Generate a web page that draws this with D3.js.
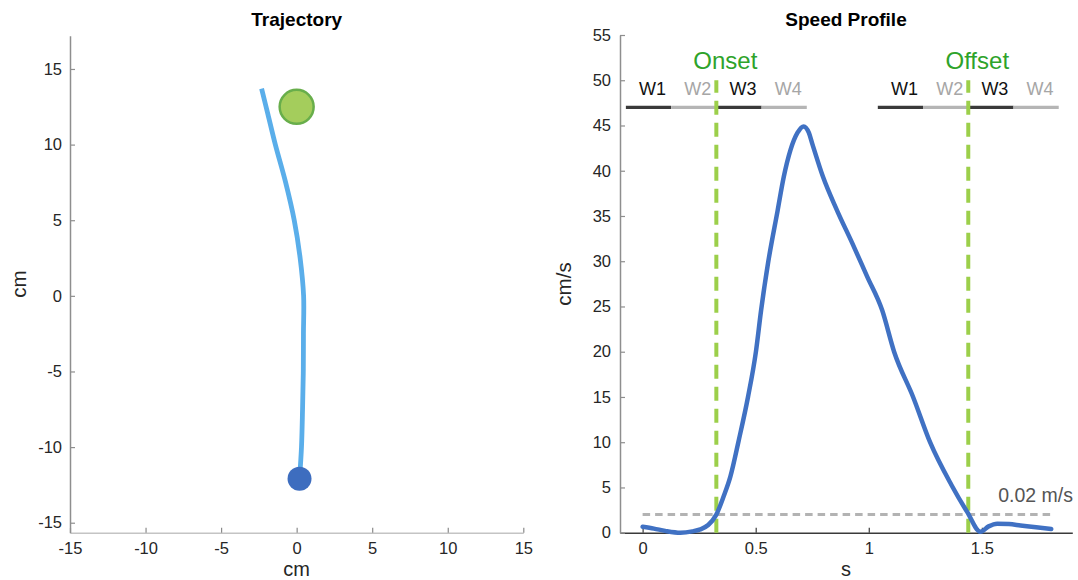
<!DOCTYPE html>
<html lang="en">
<head>
<meta charset="UTF-8">
<title>Trajectory and Speed Profile</title>
<style>
  body { margin: 0; background: #fff; }
  text { font-family: "Liberation Sans", Arial, Helvetica, sans-serif; }
</style>
</head>
<body>
<script src="https://cdn.jsdelivr.net/npm/d3@7"></script>
<script>
// trajectory (cm), from the start point up to the end near the target
var trajX = [0.19, 0.32, 0.39, 0.44, 0.45, 0.46, 0.23, -0.16, -0.73, -1.41, -1.9, -2.32]
var trajY = [-12.1, -10, -7.5, -5, -2.5, 0, 2.5, 5, 7.5, 10, 12, 13.7]
var startPt = [0.19, -12.1]
var targetPt = [0, 12.5]
var trajTicks = [-15, -10, -5, 0, 5, 10, 15]

// speed profile
var timeS = [0, 0.05, 0.1, 0.167, 0.22, 0.255, 0.29, 0.326, 0.358, 0.388, 0.425, 0.466, 0.501, 0.524,
  0.556, 0.597, 0.624, 0.654, 0.685, 0.712, 0.735, 0.75, 0.798, 0.86, 0.927, 0.993, 1.059, 1.112,
  1.196, 1.271, 1.365, 1.435, 1.494, 1.53, 1.568, 1.62, 1.671, 1.74, 1.807]
var speed = [0.65, 0.45, 0.2, 0, 0.15, 0.37, 0.85, 2.0, 4.0, 6.2, 10.2, 15, 20, 24.6,
  30, 35.6, 39.3, 42.3, 44.2, 44.9, 44.2, 43.0, 39.3, 35.6, 32.0, 28.3, 24.6, 20,
  15, 10, 5.3, 2.3, 0.1, 0.7, 1.0, 0.95, 0.8, 0.6, 0.4]
var onsetT = 0.326
var offsetT = 1.44
var threshold = 2          // cm/s  (0.02 m/s)
var thresholdSpan = [0, 1.807]
var windowLabels = ['W1', 'W2', 'W3', 'W4']
var windowOffsets = [-0.4, -0.2, 0, 0.2]   // window starts relative to the event, 0.2 s each
var windowLen = 0.2
var windowLevel = 47
var speedTicksX = [0, 0.5, 1, 1.5]
var speedTicksY = [0, 5, 10, 15, 20, 25, 30, 35, 40, 45, 50, 55]

var W = 1078, H = 580
var svg = d3.select('body').append('svg').attr('width', W).attr('height', H)

var plain = d => String(d)   // hyphen minus, like the original

function styleAxis(g, color, labelColor) {
  g.select('.domain').attr('stroke', color).attr('stroke-width', 1.5)
  g.selectAll('.tick line').attr('stroke', color).attr('stroke-width', 1.2)
  g.selectAll('.tick text').attr('fill', labelColor).attr('font-size', 16.5)
    .style('font-family', '"Liberation Sans", Arial, sans-serif')
}

// ---------- Trajectory ----------
var x1 = d3.scaleLinear().domain([-15, 15]).range([70, 523.3])
var y1 = d3.scaleLinear().domain([-15.66, 17.2]).range([532.7, 35.7])

svg.append('g').attr('transform', 'translate(0,532.7)')
  .call(d3.axisBottom(x1).tickValues(trajTicks).tickFormat(plain).tickSize(-5).tickSizeOuter(0).tickPadding(9.5))
  .call(g => styleAxis(g, '#c4c4c4', '#262626'))
  .call(g => g.selectAll('.tick line').attr('stroke', '#8a8a8a'))
svg.append('g').attr('transform', 'translate(70,0)')
  .call(d3.axisLeft(y1).tickValues(trajTicks).tickFormat(plain).tickSize(-5).tickSizeOuter(0).tickPadding(8))
  .call(g => styleAxis(g, '#8e8e8e', '#262626'))

var traj = trajX.map((d, i) => [d, trajY[i]])
svg.append('path').datum(traj)
  .attr('fill', 'none').attr('stroke', '#5aaeea').attr('stroke-width', 4.8)
  .attr('stroke-linejoin', 'round')
  .attr('d', d3.line().x(d => x1(d[0])).y(d => y1(d[1])).curve(d3.curveCatmullRom))

svg.append('circle').attr('cx', x1(startPt[0])).attr('cy', y1(startPt[1])).attr('r', 12)
  .attr('fill', '#3d6dbf')
svg.append('circle').attr('cx', x1(targetPt[0])).attr('cy', y1(targetPt[1])).attr('r', 17)
  .attr('fill', '#a4cd5c').attr('stroke', '#68ae4b').attr('stroke-width', 2.5)

svg.append('text').attr('x', 296.7).attr('y', 26).attr('text-anchor', 'middle')
  .attr('font-size', 19).attr('font-weight', 'bold').attr('fill', '#000').text('Trajectory')
svg.append('text').attr('x', 296.7).attr('y', 575.6).attr('text-anchor', 'middle')
  .attr('font-size', 20).attr('fill', '#262626').text('cm')
svg.append('text').attr('transform', 'translate(26,284) rotate(-90)').attr('text-anchor', 'middle')
  .attr('font-size', 20.5).attr('fill', '#262626').text('cm')

// ---------- Speed profile ----------
var x2 = d3.scaleLinear().domain([-0.1, 1.9]).range([620, 1072.3])
var y2 = d3.scaleLinear().domain([0, 55]).range([532.7, 35])

svg.append('g').attr('transform', 'translate(0,532.7)')
  .call(d3.axisBottom(x2).tickValues(speedTicksX).tickFormat(plain).tickSize(-5).tickSizeOuter(0).tickPadding(9.5))
  .call(g => styleAxis(g, '#3a3a3a', '#262626'))
svg.append('g').attr('transform', 'translate(620,0)')
  .call(d3.axisLeft(y2).tickValues(speedTicksY).tickFormat(plain).tickSize(-5).tickSizeOuter(0).tickPadding(9))
  .call(g => styleAxis(g, '#8e8e8e', '#262626'))

// threshold
svg.append('line')
  .attr('x1', x2(thresholdSpan[0])).attr('x2', x2(thresholdSpan[1]))
  .attr('y1', y2(threshold)).attr('y2', y2(threshold))
  .attr('stroke', '#b3b3b3').attr('stroke-width', 3).attr('stroke-dasharray', '7.5,5')
svg.append('text').attr('x', 1073).attr('y', 501.5).attr('text-anchor', 'end')
  .attr('font-size', 19.5).attr('fill', '#555').text('0.02 m/s')

// event markers, windows, labels
var events = [{ t: onsetT, name: 'Onset' }, { t: offsetT, name: 'Offset' }]
events.forEach(function (ev) {
  windowOffsets.forEach(function (o, i) {
    var a = x2(ev.t + o), b = x2(ev.t + o + windowLen)
    svg.append('line').attr('x1', a).attr('x2', b)
      .attr('y1', y2(windowLevel)).attr('y2', y2(windowLevel))
      .attr('stroke', i % 2 === 0 ? '#3a3a3a' : '#b5b5b5').attr('stroke-width', 3.2)
    svg.append('text').attr('x', (a + b) / 2 + 4).attr('y', 95)
      .attr('text-anchor', 'middle').attr('font-size', 18)
      .attr('fill', i % 2 === 0 ? '#111' : '#a6a6a6').text(windowLabels[i])
  })
  svg.append('line').attr('x1', x2(ev.t)).attr('x2', x2(ev.t))
    .attr('y1', y2(0)).attr('y2', y2(50))
    .attr('stroke', '#9ccf4a').attr('stroke-width', 4).attr('stroke-dasharray', '14,8')
  svg.append('text').attr('x', x2(ev.t) + 9).attr('y', 69)
    .attr('text-anchor', 'middle').attr('font-size', 24).attr('fill', '#2ea32a').text(ev.name)
})

var prof = timeS.map((t, i) => [t, speed[i]])
svg.append('path').datum(prof)
  .attr('fill', 'none').attr('stroke', '#4071c3').attr('stroke-width', 4.5)
  .attr('stroke-linejoin', 'round').attr('stroke-linecap', 'round')
  .attr('d', d3.line().x(d => x2(d[0])).y(d => y2(d[1])).curve(d3.curveMonotoneX))

svg.append('text').attr('x', 846).attr('y', 26).attr('text-anchor', 'middle')
  .attr('font-size', 19).attr('font-weight', 'bold').attr('fill', '#000').text('Speed Profile')
svg.append('text').attr('x', 846).attr('y', 575.6).attr('text-anchor', 'middle')
  .attr('font-size', 20).attr('fill', '#262626').text('s')
svg.append('text').attr('transform', 'translate(571,284) rotate(-90)').attr('text-anchor', 'middle')
  .attr('font-size', 20.5).attr('fill', '#262626').text('cm/s')
</script>
</body>
</html>
